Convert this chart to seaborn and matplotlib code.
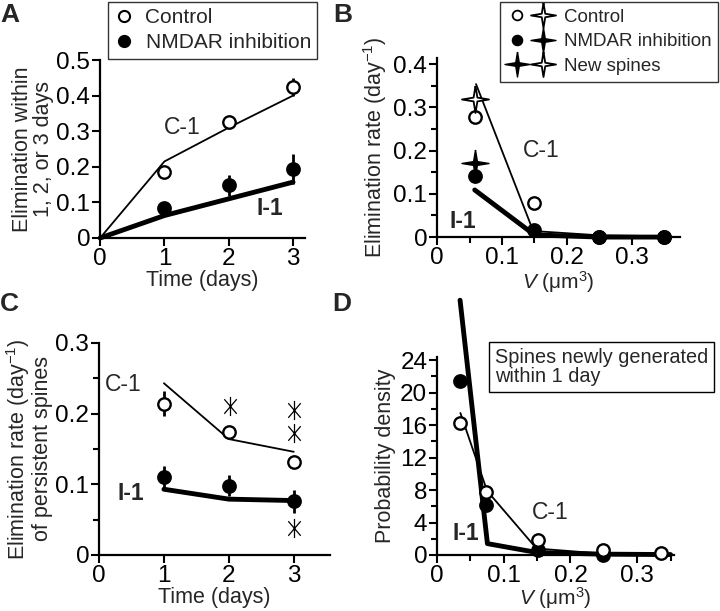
import matplotlib
matplotlib.use('Agg')
import matplotlib.pyplot as plt
import seaborn as sns
from matplotlib.lines import Line2D
from matplotlib.legend_handler import HandlerTuple
from matplotlib.path import Path
from matplotlib.ticker import MultipleLocator

# panel A: elimination within 1, 2 or 3 days
days_a = [1, 2, 3]
ctrl_a = [0.185, 0.327, 0.425]
ctrl_a_err = [0.012, 0.01, 0.025]
nmdar_a = [0.083, 0.148, 0.195]
nmdar_a_err = [0.01, 0.03, 0.042]
fit_days_a = [0, 1, 2, 3]
c1_a = [0, 0.215, 0.31, 0.40]
i1_a = [0, 0.063, 0.11, 0.157]

# panel B: elimination rate vs spine volume
vol_b = [0.058, 0.15, 0.25, 0.35]
ctrl_b = [0.279, 0.078, 0.0, 0.0]
nmdar_b = [0.141, 0.016, 0.0, 0.0]
new_vol_b = [0.058]
new_ctrl_b = [0.319]
new_nmdar_b = [0.172]
c1_b_x = [0.06, 0.148, 0.25, 0.35]
c1_b = [0.354, 0.014, 0.004, 0.002]
i1_b_x = [0.058, 0.15, 0.25, 0.35]
i1_b = [0.109, 0.005, 0.0, 0.0]

# panel C: elimination rate of persistent spines
days_c = [1, 2, 3]
ctrl_c = [0.214, 0.174, 0.131]
ctrl_c_err = [0.018, 0.006, 0.004]
nmdar_c = [0.110, 0.098, 0.076]
nmdar_c_err = [0.016, 0.015, 0.016]
c1_c = [0.243, 0.164, 0.146]
i1_c = [0.093, 0.079, 0.077]
star_c_x = [2.02, 3.0, 3.0, 3.0]
star_c_y = [0.211, 0.205, 0.172, 0.038]

# panel D: probability density of new spines
vol_d_ctrl = [0.034, 0.074, 0.152, 0.248, 0.336]
ctrl_d = [16.3, 7.7, 1.9, 0.6, 0.3]
vol_d_nmdar = [0.034, 0.074, 0.152, 0.248]
nmdar_d = [21.4, 6.1, 0.6, 0.0]
c1_d_x = [0.035, 0.075, 0.149, 0.25, 0.35]
c1_d = [17.5, 7.9, 0.8, 0.15, 0.05]
i1_d_x = [0.0345, 0.0755, 0.15, 0.25, 0.35]
i1_d = [31.4, 1.4, 0.3, 0.1, 0.05]

sns.set_style('ticks')
plt.rcParams['font.family'] = ['Liberation Sans', 'DejaVu Sans']
plt.rcParams['mathtext.fontset'] = 'custom'
plt.rcParams['mathtext.rm'] = 'Liberation Sans'
plt.rcParams['mathtext.it'] = 'Liberation Sans:italic'
plt.rcParams['font.size'] = 15.5

STAR = [(0, 1), (0.14, 0.14), (1, 0), (0.14, -0.14), (0, -1), (-0.14, -0.14), (-1, 0), (-0.14, 0.14), (0, 1)]
ASTER = Path([(0, -1), (0, 1), (-0.65, -0.76), (0.65, 0.76), (-0.65, 0.76), (0.65, -0.76)],
             [Path.MOVETO, Path.LINETO, Path.MOVETO, Path.LINETO, Path.MOVETO, Path.LINETO])
CIRC_S = 80
STAR_S = 380
TXT = 16.5

fig = plt.figure(figsize=(7.2, 6.11), dpi=100)
ax_a = fig.add_axes([0.139, 0.6105, 0.285, 0.2913])
ax_b = fig.add_axes([0.607, 0.612, 0.3375, 0.2935])
ax_c = fig.add_axes([0.1375, 0.0917, 0.321, 0.347])
ax_d = fig.add_axes([0.607, 0.0917, 0.329, 0.324])


def style(ax):
    sns.despine(ax=ax)
    for s in ['left', 'bottom']:
        ax.spines[s].set_linewidth(1.6)
        ax.spines[s].set_color('black')
    ax.tick_params(which='major', direction='out', length=6, width=1.5, colors='black',
                   labelsize=17.5, pad=1)
    ax.tick_params(which='minor', direction='out', length=4, width=1.5, colors='black')


def circles(ax, x, y, filled):
    sns.scatterplot(x=x, y=y, ax=ax, marker='o', s=CIRC_S,
                    color='black' if filled else 'white', edgecolor='black',
                    linewidth=1.7, zorder=5, clip_on=False)


def fit_line(ax, x, y, lw):
    sns.lineplot(x=x, y=y, ax=ax, color='black', linewidth=lw, estimator=None,
                 zorder=3, clip_on=False)


# ---- A
fit_line(ax_a, fit_days_a, c1_a, 1.3)
fit_line(ax_a, fit_days_a, i1_a, 3.5)
ax_a.errorbar(days_a, ctrl_a, yerr=ctrl_a_err, fmt='none', ecolor='black', elinewidth=2, zorder=4)
ax_a.errorbar(days_a, nmdar_a, yerr=nmdar_a_err, fmt='none', ecolor='black', elinewidth=2, zorder=4)
circles(ax_a, days_a, ctrl_a, False)
circles(ax_a, days_a, nmdar_a, True)
ax_a.set_xlim(0, 3.19)
ax_a.set_ylim(0, 0.5)
ax_a.set_xticks([0, 1, 2, 3])
ax_a.set_yticks([0, 0.1, 0.2, 0.3, 0.4, 0.5], ['0', '0.1', '0.2', '0.3', '0.4', '0.5'])
ax_a.set_xlabel('Time (days)', labelpad=0)
ax_a.set_ylabel('Elimination within\n1, 2, or 3 days', labelpad=2, linespacing=1.0)
ax_a.text(1.27, 0.31, 'C-1', ha='center', va='center', fontsize=TXT)
ax_a.text(2.64, 0.084, 'I-1', ha='center', va='center', fontsize=TXT, weight='bold')
style(ax_a)
h_ctrl = Line2D([], [], ls='none', marker='o', ms=8, mfc='white', mec='black', mew=1.5)
h_nmdar = Line2D([], [], ls='none', marker='o', ms=8, mfc='black', mec='black', mew=1.5)
leg = ax_a.legend([h_ctrl, h_nmdar], ['Control', 'NMDAR inhibition'], loc='upper left',
                  bbox_to_anchor=(108 / 720, 1 - 2 / 611), bbox_transform=fig.transFigure,
                  frameon=True, fancybox=False, borderaxespad=0, handlelength=0.9,
                  handletextpad=0.6, borderpad=0.3, labelspacing=0.3, fontsize=15)
leg.get_frame().set_edgecolor('black')
leg.get_frame().set_linewidth(1.0)

# ---- B
fit_line(ax_b, c1_b_x, c1_b, 1.3)
fit_line(ax_b, i1_b_x, i1_b, 3.5)
circles(ax_b, vol_b, ctrl_b, False)
circles(ax_b, vol_b, nmdar_b, True)
sns.scatterplot(x=new_vol_b, y=new_ctrl_b, ax=ax_b, marker=STAR, s=STAR_S, color='white',
                edgecolor='black', linewidth=1.3, zorder=6)
sns.scatterplot(x=new_vol_b, y=new_nmdar_b, ax=ax_b, marker=STAR, s=STAR_S, color='black',
                edgecolor='black', linewidth=1.0, zorder=6)
ax_b.set_xlim(0, 0.374)
ax_b.set_ylim(0, 0.415)
ax_b.set_xticks([0, 0.1, 0.2, 0.3], ['0', '0.1', '0.2', '0.3'])
ax_b.set_yticks([0, 0.1, 0.2, 0.3, 0.4], ['0', '0.1', '0.2', '0.3', '0.4'])
ax_b.xaxis.set_minor_locator(MultipleLocator(0.05))
ax_b.yaxis.set_minor_locator(MultipleLocator(0.05))
ax_b.set_xlabel(r'$\mathit{V}$ (μm$^3$)', labelpad=0, fontsize=15)
ax_b.set_ylabel('Elimination rate (day$^{-1}$)', labelpad=3)
ax_b.text(0.16, 0.2, 'C-1', ha='center', va='center', fontsize=TXT)
ax_b.text(0.04, 0.037, 'I-1', ha='center', va='center', fontsize=TXT, weight='bold')
style(ax_b)
hs_open = Line2D([], [], ls='none', marker=STAR, ms=18, mfc='white', mec='black', mew=1.3)
hs_fill = Line2D([], [], ls='none', marker=STAR, ms=18, mfc='black', mec='black', mew=1.0)
hc_open = Line2D([], [], ls='none', marker='o', ms=7, mfc='white', mec='black', mew=1.3)
hc_fill = Line2D([], [], ls='none', marker='o', ms=7, mfc='black', mec='black', mew=1.3)
leg_b = ax_b.legend([(hc_open, hs_open), (hc_fill, hs_fill), (hs_fill, hs_open)],
                    ['Control', 'NMDAR inhibition', 'New spines'],
                    handler_map={tuple: HandlerTuple(ndivide=None, pad=0.3)},
                    loc='upper right', bbox_to_anchor=(718 / 720, 1 - 2 / 611),
                    bbox_transform=fig.transFigure, frameon=True, fancybox=False,
                    borderaxespad=0, handlelength=2.5, handletextpad=0.55, borderpad=0.35,
                    labelspacing=0.4, fontsize=13.5)
leg_b.get_frame().set_edgecolor('black')
leg_b.get_frame().set_linewidth(1.0)

# ---- C
fit_line(ax_c, days_c, c1_c, 1.3)
fit_line(ax_c, days_c, i1_c, 3.5)
ax_c.errorbar(days_c, ctrl_c, yerr=ctrl_c_err, fmt='none', ecolor='black', elinewidth=2, zorder=4)
ax_c.errorbar(days_c, nmdar_c, yerr=nmdar_c_err, fmt='none', ecolor='black', elinewidth=2, zorder=4)
circles(ax_c, days_c, ctrl_c, False)
circles(ax_c, days_c, nmdar_c, True)
sns.scatterplot(x=star_c_x, y=star_c_y, ax=ax_c, marker=ASTER, s=190, color='black',
                edgecolor='black', linewidth=0.9, zorder=6)
ax_c.set_xlim(0, 3.56)
ax_c.set_ylim(0, 0.3)
ax_c.set_xticks([0, 1, 2, 3])
ax_c.set_yticks([0, 0.1, 0.2, 0.3], ['0', '0.1', '0.2', '0.3'])
ax_c.yaxis.set_minor_locator(MultipleLocator(0.05))
ax_c.set_xlabel('Time (days)', labelpad=0)
ax_c.set_ylabel('Elimination rate (day$^{-1}$)\nof persistent spines', labelpad=2, linespacing=1.0)
ax_c.text(0.38, 0.241, 'C-1', ha='center', va='center', fontsize=TXT)
ax_c.text(0.49, 0.087, 'I-1', ha='center', va='center', fontsize=TXT, weight='bold')
style(ax_c)

# ---- D
fit_line(ax_d, c1_d_x, c1_d, 1.3)
fit_line(ax_d, i1_d_x, i1_d, 3.5)
circles(ax_d, vol_d_nmdar, nmdar_d, True)
circles(ax_d, vol_d_ctrl, ctrl_d, False)
ax_d.set_xlim(0, 0.355)
ax_d.set_ylim(0, 24.4)
ax_d.set_xticks([0, 0.1, 0.2, 0.3], ['0', '0.1', '0.2', '0.3'])
ax_d.set_yticks([0, 4, 8, 12, 16, 20, 24])
ax_d.xaxis.set_minor_locator(MultipleLocator(0.05))
ax_d.yaxis.set_minor_locator(MultipleLocator(2))
ax_d.set_xlabel(r'$\mathit{V}$ (μm$^3$)', labelpad=-1, fontsize=15)
ax_d.set_ylabel('Probability density', labelpad=3)
ax_d.text(0.17, 5.2, 'C-1', ha='center', va='center', fontsize=TXT)
ax_d.text(0.043, 2.7, 'I-1', ha='center', va='center', fontsize=TXT, weight='bold')
style(ax_d)
fig.text(495 / 720, 1 - 367 / 611, 'Spines newly generated\nwithin 1 day', ha='left', va='center',
         fontsize=14.3, linespacing=1.05,
         bbox=dict(boxstyle='square,pad=0.3', facecolor='white', edgecolor='black', linewidth=1.0))

# panel letters
for lbl, x, y in [('A', 0.0, 1 - 3 / 611), ('B', 333 / 720, 1 - 3 / 611),
                  ('C', 0.0, 1 - 292 / 611), ('D', 332 / 720, 1 - 292 / 611)]:
    fig.text(x, y, lbl, ha='left', va='top', fontsize=19, weight='bold')

fig.savefig('out.png', dpi=100)
